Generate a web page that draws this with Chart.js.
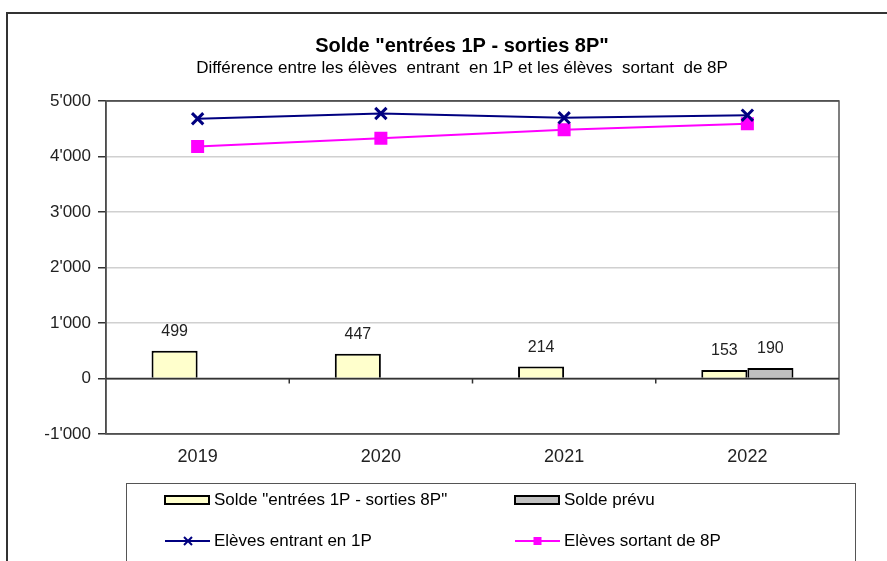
<!DOCTYPE html>
<html>
<head>
<meta charset="utf-8">
<script src="https://cdn.jsdelivr.net/npm/chart.js@4/dist/chart.umd.min.js"></script>
<style>
  html, body { margin: 0; padding: 0; background: #fff; }
  canvas { display: block; }
</style>
</head>
<body>
<canvas id="soldeChart" width="887" height="561"></canvas>
<script>
var years = ['2019', '2020', '2021', '2022'];
var solde = [499, 447, 214, 153];
var soldePrevu = [null, null, null, 190];
var entrant1P = [4680, 4775, 4697, 4744];
var sortant8P = [4181, 4328, 4483, 4591];
var yTicks = [-1000, 0, 1000, 2000, 3000, 4000, 5000];

var FONT = "'Liberation Sans', Arial, sans-serif";

function fmt(v) {
  var s = Math.abs(v).toString();
  if (s.length > 3) s = s.slice(0, s.length - 3) + "'" + s.slice(-3);
  return (v < 0 ? '-' : '') + s;
}

// frame, titles, zero-line ticks, plot border, value labels, legend
var decor = {
  id: 'decor',
  beforeDraw: function(chart) {
    var ctx = chart.ctx;
    ctx.save();
    ctx.fillStyle = '#fff';
    ctx.fillRect(0, 0, chart.width, chart.height);
    ctx.strokeStyle = '#333';
    ctx.lineWidth = 2;
    ctx.beginPath();
    ctx.moveTo(887, 13);
    ctx.lineTo(7, 13);
    ctx.lineTo(7, 561);
    ctx.stroke();

    ctx.fillStyle = '#000';
    ctx.textAlign = 'center';
    ctx.textBaseline = 'middle';
    ctx.font = 'bold 20px ' + FONT;
    ctx.fillText('Solde "entrées 1P - sorties 8P"', 462, 46);
    ctx.font = '17px ' + FONT;
    ctx.fillText('Différence entre les élèves  entrant  en 1P et les élèves  sortant  de 8P', 462, 68);
    ctx.restore();
  },
  afterDatasetsDraw: function(chart) {
    var ctx = chart.ctx;
    var a = chart.chartArea;
    var x = chart.scales.x, y = chart.scales.y;
    ctx.save();
    // plot border
    ctx.strokeStyle = '#555';
    ctx.lineWidth = 1.5;
    ctx.strokeRect(a.left, a.top, a.right - a.left, a.bottom - a.top);
    // zero line with category ticks
    var y0 = y.getPixelForValue(0);
    ctx.strokeStyle = '#333';
    ctx.beginPath();
    ctx.moveTo(a.left, y0);
    ctx.lineTo(a.right, y0);
    for (var i = 1; i < years.length; i++) {
      var xp = x.getPixelForValue(i - 0.5);
      ctx.moveTo(xp, y0);
      ctx.lineTo(xp, y0 + 5);
    }
    ctx.stroke();

    // value labels above bars
    ctx.fillStyle = '#222';
    ctx.font = '16px ' + FONT;
    ctx.textAlign = 'center';
    ctx.textBaseline = 'middle';
    chart.data.datasets.forEach(function(ds, di) {
      if (ds.type !== 'bar') return;
      chart.getDatasetMeta(di).data.forEach(function(el, j) {
        if (ds.data[j] == null) return;
        ctx.fillText(fmt(ds.data[j]), el.x, el.y - 19);
      });
    });

    // legend
    ctx.strokeStyle = '#555';
    ctx.lineWidth = 1;
    ctx.strokeRect(126.5, 483.5, 729, 100);
    var items = chart.data.datasets;
    var pos = [[165, 500], [515, 500], [165, 541], [515, 541]];
    items.forEach(function(ds, n) {
      var px = pos[n][0], py = pos[n][1];
      if (ds.type === 'bar') {
        ctx.fillStyle = ds.backgroundColor;
        ctx.fillRect(px, py - 4, 44, 8);
        ctx.strokeStyle = '#000';
        ctx.lineWidth = 2;
        ctx.strokeRect(px, py - 4, 44, 8);
      } else {
        ctx.strokeStyle = ds.borderColor;
        ctx.lineWidth = 2;
        ctx.beginPath();
        ctx.moveTo(px, py);
        ctx.lineTo(px + 45, py);
        ctx.stroke();
        if (ds.pointStyle === 'rect') {
          ctx.fillStyle = ds.borderColor;
          ctx.fillRect(px + 18.5, py - 4, 8, 8);
        } else {
          ctx.beginPath();
          ctx.moveTo(px + 19, py - 4); ctx.lineTo(px + 27, py + 4);
          ctx.moveTo(px + 27, py - 4); ctx.lineTo(px + 19, py + 4);
          ctx.stroke();
        }
      }
      ctx.fillStyle = '#000';
      ctx.textAlign = 'left';
      ctx.font = '17px ' + FONT;
      ctx.fillText(ds.label, px + 49, py);
    });
    ctx.restore();
  }
};

new Chart(document.getElementById('soldeChart'), {
  data: {
    labels: years,
    datasets: [{
      type: 'bar',
      label: 'Solde "entrées 1P - sorties 8P"',
      data: solde,
      backgroundColor: '#FFFFCC',
      borderColor: '#000',
      borderWidth: 2,
      borderSkipped: 'bottom',
      categoryPercentage: 0.503,
      barPercentage: 1,
      order: 2
    }, {
      type: 'bar',
      label: 'Solde prévu',
      data: soldePrevu,
      backgroundColor: '#C0C0C0',
      borderColor: '#000',
      borderWidth: 2,
      borderSkipped: 'bottom',
      categoryPercentage: 0.503,
      barPercentage: 1,
      order: 2
    }, {
      type: 'line',
      label: 'Elèves entrant en 1P',
      data: entrant1P,
      borderColor: '#000080',
      backgroundColor: '#000080',
      borderWidth: 2,
      pointStyle: 'crossRot',
      pointRadius: 8,
      pointBorderWidth: 3,
      tension: 0,
      order: 0
    }, {
      type: 'line',
      label: 'Elèves sortant de 8P',
      data: sortant8P,
      borderColor: '#FF00FF',
      backgroundColor: '#FF00FF',
      borderWidth: 2,
      pointStyle: 'rect',
      pointRadius: 9.2,
      pointBorderWidth: 0,
      tension: 0,
      order: 1
    }]
  },
  options: {
    responsive: false,
    animation: false,
    devicePixelRatio: 1,
    layout: { padding: { left: 0, top: 101, right: 48, bottom: 0 } },
    plugins: {
      legend: { display: false },
      title: { display: false },
      tooltip: { enabled: false }
    },
    scales: {
      x: {
        offset: true,
        grid: { display: false, drawTicks: false },
        border: { display: false },
        ticks: { color: '#222', font: { family: FONT, size: 18 }, padding: 12 },
        afterFit: function(s) { s.height = 127; }
      },
      y: {
        min: -1000,
        max: 5000,
        afterBuildTicks: function(s) {
          s.ticks = yTicks.map(function(v) { return { value: v }; });
        },
        grid: {
          color: function(c) { return c.tick && (c.tick.value === 0 || c.tick.value === 5000 || c.tick.value === -1000) ? '#444' : '#D0D0D0'; },
          lineWidth: 1.5,
          tickLength: 8,
          tickColor: '#333'
        },
        border: { display: true, color: '#333', width: 1.5 },
        ticks: {
          color: '#222',
          font: { family: FONT, size: 17 },
          padding: 7,
          callback: function(v) { return fmt(v); }
        },
        afterFit: function(s) { s.width = 106; }
      }
    }
  },
  plugins: [decor]
});
</script>
</body>
</html>
